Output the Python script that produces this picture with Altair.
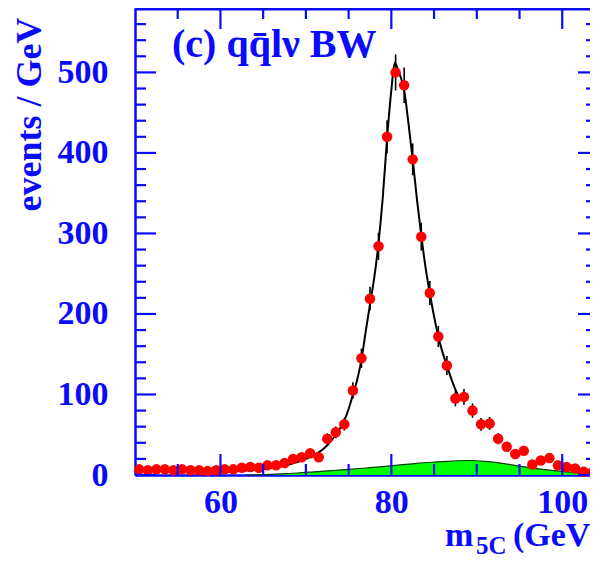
import altair as alt
import pandas as pd

# ---------------- data ----------------
mass = [50.5, 51.5, 52.5, 53.5, 54.5, 55.5, 56.5, 57.5, 58.5, 59.5,
        60.5, 61.5, 62.5, 63.5, 64.5, 65.5, 66.5, 67.5, 68.5, 69.5,
        70.5, 71.5, 72.5, 73.5, 74.5, 75.5, 76.5, 77.5, 78.5, 79.5,
        80.5, 81.5, 82.5, 83.5, 84.5, 85.5, 86.5, 87.5, 88.5, 89.5,
        90.5, 91.5, 92.5, 93.5, 94.5, 95.5, 96.5, 97.5, 98.5, 99.5,
        100.5, 101.5, 102.5, 103.5]
events = [7, 6, 7, 7, 6, 7, 6, 6, 5, 6,
          7, 7, 9, 10, 9, 12, 12, 15, 20, 22,
          27, 22, 45, 53, 63, 105, 145, 219, 284, 420,
          500, 484, 392, 296, 226, 172, 136, 95, 97, 80,
          63, 64, 45, 35, 26, 30, 13, 18, 21, 12,
          10, 8, 4, 3]
errors = [2.6, 2.4, 2.6, 2.6, 2.4, 2.6, 2.4, 2.4, 2.2, 2.4,
          2.6, 2.6, 3.0, 3.2, 3.0, 3.5, 3.5, 3.9, 4.5, 4.7,
          5.2, 4.7, 6.7, 7.3, 7.9, 10.2, 12.0, 14.8, 16.9, 20.5,
          22.4, 22.0, 19.8, 17.2, 15.0, 13.1, 11.7, 9.7, 9.8, 8.9,
          7.9, 8.0, 6.7, 5.9, 5.1, 5.5, 3.6, 4.2, 4.6, 3.5,
          3.2, 2.8, 2.0, 1.7]

fit_m = [60, 61, 62, 63, 64, 65, 66, 67, 68, 69, 70, 71, 72, 72.5, 73, 73.5,
         74, 74.5, 75, 75.5, 76, 76.5, 77, 77.5, 78, 78.5, 79, 79.5, 80,
         80.4, 80.8, 81, 81.5, 82, 82.5, 83, 83.5, 84, 84.5, 85, 85.5, 86,
         86.5, 87, 87.5, 88]
fit_n = [3.5, 4, 4.5, 5.5, 6.5, 7.5, 9, 10.5, 13, 16, 20, 25, 32, 37, 43, 50,
         58, 68, 82, 100, 118, 143, 178, 212, 245, 288, 345, 418, 478,
         512, 503, 497, 478, 437, 392, 342, 298, 258, 226, 197, 172, 152,
         136, 120, 106, 95]

bkg_m = [63, 65, 67, 69, 71, 73, 75, 77, 79, 81, 83, 85, 87, 89, 91, 93,
         95, 97, 99, 101, 103, 105]
bkg_n = [0, 0.5, 1.5, 2.5, 4, 5.5, 7, 8.7, 10.5, 12.5, 14.5, 16, 17.3, 18,
         17, 14.5, 11, 8, 5.5, 3.5, 2, 1]

y_major = [0, 100, 200, 300, 400, 500]
y_minor = [20, 40, 60, 80, 120, 140, 160, 180, 220, 240, 260, 280,
           320, 340, 360, 380, 420, 440, 460, 480, 520, 540, 560]
x_major = [60, 80, 100]
x_minor = [55, 65, 70, 75, 85, 90, 95]

title_text = ["(c) qq\u0304l\u03bd BW"]
xlabel_main = ["m"]
xlabel_sub = ["5C"]
xlabel_unit = ["(GeV)"]
ylabel = "events / GeV"

# ---------------- styling ----------------
W, H = 455, 467
BLUE = "#0a0aff"
FONT = "Liberation Serif"

xs = alt.Scale(domain=[50, 103.25], nice=False, zero=False)
ys = alt.Scale(domain=[0, 580], nice=False)

pts = pd.DataFrame({"m": mass, "n": events, "e": errors})
pts["lo"] = pts["n"] - pts["e"]
pts["hi"] = pts["n"] + pts["e"]
fit = pd.DataFrame({"m": fit_m, "n": fit_n})
bkg = pd.DataFrame({"m": bkg_m, "n": bkg_n})

x_axis = alt.Axis(values=x_major, ticks=False, tickSize=0, grid=False,
                  domainColor=BLUE, domainWidth=2.5, labelColor=BLUE,
                  labelFont=FONT, labelFontSize=34, labelFontWeight="bold",
                  labelPadding=10, title=None, labelFlush=False)
y_axis = alt.Axis(values=y_major, ticks=False, tickSize=0, grid=False,
                  domainColor=BLUE, domainWidth=2.5, labelColor=BLUE,
                  labelFont=FONT, labelFontSize=34, labelFontWeight="bold",
                  labelPadding=27, labelFlush=False,
                  title=ylabel, titleColor=BLUE, titleFont=FONT,
                  titleFontSize=36, titleFontWeight="bold", titleAngle=270,
                  titleAlign="center", titleBaseline="middle",
                  titleX=-106, titleY=106)


def X(field):
    return alt.X(field, type="quantitative", scale=xs, axis=x_axis)


def Y(field):
    return alt.Y(field, type="quantitative", scale=ys, axis=y_axis)


bkg_area = alt.Chart(bkg).mark_area(
    color="#00ff00", opacity=1, interpolate="monotone",
    line={"color": "#0b3d0b", "strokeWidth": 1.2}).encode(
    x=X("m"), y=Y("n"))

fit_line = alt.Chart(fit).mark_line(color="black", strokeWidth=2,
                                    interpolate="monotone").encode(
    x=X("m"), y=Y("n"))

err_bars = alt.Chart(pts).mark_rule(color="black", strokeWidth=1.6).encode(
    x=X("m"), y=Y("lo"), y2="hi:Q")

points = alt.Chart(pts).mark_circle(color="#ff0000", size=110, opacity=1).encode(
    x=X("m"), y=Y("n"))

# inward ticks on all four sides
xt_major = pd.DataFrame({"m": x_major})
xt_minor = pd.DataFrame({"m": x_minor})
yt_major = pd.DataFrame({"n": y_major})
yt_minor = pd.DataFrame({"n": y_minor})


def xticks(df, y0, y1):
    return alt.Chart(df).mark_rule(color=BLUE, strokeWidth=2.2).encode(
        x=X("m"), y=alt.value(y0), y2=alt.value(y1))


def yticks(df, x0, x1):
    return alt.Chart(df).mark_rule(color=BLUE, strokeWidth=2.2).encode(
        y=Y("n"), x=alt.value(x0), x2=alt.value(x1))


ticks = [
    xticks(xt_major, H, H - 21), xticks(xt_minor, H, H - 11),
    xticks(xt_major, 0, 21), xticks(xt_minor, 0, 11),
    yticks(yt_major, 0, 21), yticks(yt_minor, 0, 11),
    yticks(yt_major, W, W - 12), yticks(yt_minor, W, W - 4),
]

top_line = alt.Chart(pd.DataFrame({"a": [0]})).mark_rule(
    color=BLUE, strokeWidth=3).encode(
    x=alt.value(0), x2=alt.value(W), y=alt.value(1))

title = alt.Chart(pd.DataFrame({"t": title_text})).mark_text(
    align="left", baseline="alphabetic", font=FONT, fontSize=40,
    fontWeight="bold", color=BLUE).encode(
    text="t:N", x=alt.value(37), y=alt.value(49))

xl_main = alt.Chart(pd.DataFrame({"t": xlabel_main})).mark_text(
    align="left", baseline="alphabetic", font=FONT, fontSize=34,
    fontWeight="bold", color=BLUE).encode(
    text="t:N", x=alt.value(310), y=alt.value(538))
xl_sub = alt.Chart(pd.DataFrame({"t": xlabel_sub})).mark_text(
    align="left", baseline="alphabetic", font=FONT, fontSize=25,
    fontWeight="bold", color=BLUE).encode(
    text="t:N", x=alt.value(341), y=alt.value(546))
xl_unit = alt.Chart(pd.DataFrame({"t": xlabel_unit})).mark_text(
    align="left", baseline="alphabetic", font=FONT, fontSize=34,
    fontWeight="bold", color=BLUE).encode(
    text="t:N", x=alt.value(378), y=alt.value(538))

chart = alt.layer(
    bkg_area, fit_line, err_bars, points, *ticks, top_line,
    title, xl_main, xl_sub, xl_unit,
).properties(
    width=W, height=H,
    autosize=alt.AutoSizeParams(type="none"),
    padding={"left": 127, "top": 0, "right": 0, "bottom": 80},
).configure_view(stroke=None).configure(background="white")

chart.save("out.html", embed_options={"renderer": "svg", "actions": False})
